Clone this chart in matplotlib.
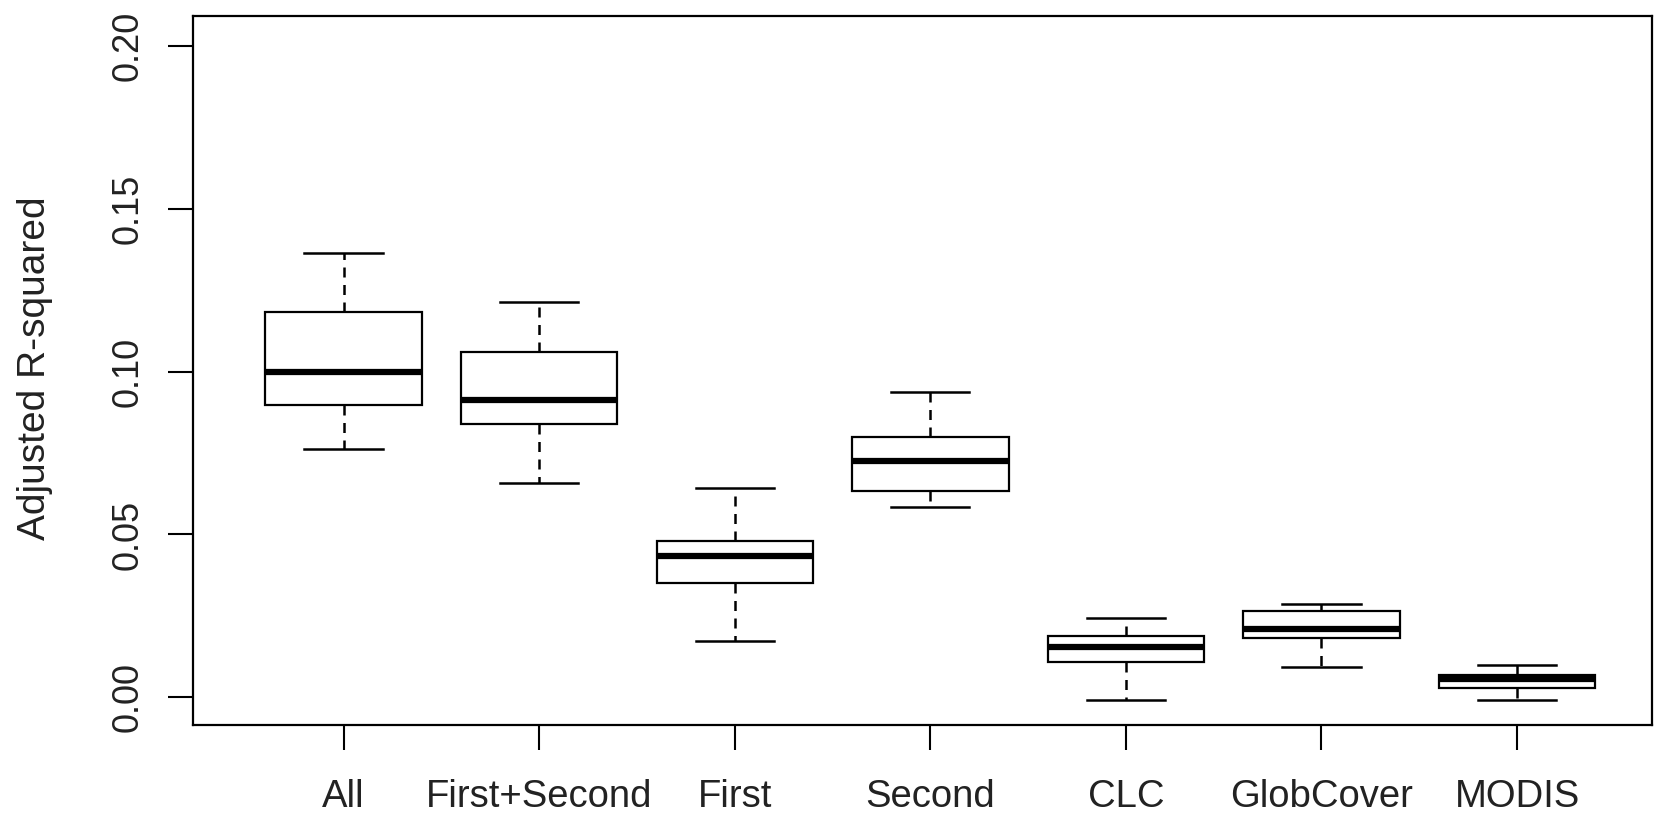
import numpy as np
import matplotlib.pyplot as plt
from matplotlib import font_manager

# la fuente del original se ve alta y estrecha
try:
    font_manager.findfont("Liberation Sans Narrow", fallback_to_default=False)
    familia = "Liberation Sans Narrow"
    escala = 1 / 0.82
except ValueError:
    familia = "Liberation Sans"
    escala = 1.0
plt.rcParams['font.family'] = [familia, 'DejaVu Sans']

# datos
categorias = ["All", "First+Second", "First", "Second", "CLC", "GlobCover", "MODIS"]
bigote_inf = [0.0763, 0.0658, 0.0173, 0.0583, -0.0007, 0.0092, -0.0007]
q1 = [0.0897, 0.0838, 0.0350, 0.0635, 0.0108, 0.0183, 0.0029]
mediana = [0.0998, 0.0913, 0.0435, 0.0727, 0.0154, 0.0209, 0.0056]
q3 = [0.1182, 0.1061, 0.0481, 0.0799, 0.0187, 0.0265, 0.0069]
bigote_sup = [0.1365, 0.1214, 0.0642, 0.0936, 0.0245, 0.0288, 0.0098]

estadisticas = []
for i in range(len(categorias)):
    estadisticas.append({"label": categorias[i], "whislo": bigote_inf[i], "q1": q1[i],
                         "med": mediana[i], "q3": q3[i], "whishi": bigote_sup[i],
                         "fliers": []})

fig = plt.figure(figsize=(16.71, 8.16), dpi=100)
ax = fig.add_axes([193 / 1671, 1 - 725 / 816, 1459 / 1671, 709 / 816])

ax.bxp(estadisticas, widths=0.8, showfliers=False, patch_artist=True,
       boxprops=dict(facecolor="white", edgecolor="black", linewidth=1.6),
       medianprops=dict(color="black", linewidth=4.5, solid_capstyle="butt"),
       whiskerprops=dict(color="black", linewidth=1.8, linestyle=(0, (4, 3))),
       capprops=dict(color="black", linewidth=1.8))

ax.set_xlim(0.23, 7.69)
ax.set_ylim(-0.0085, 0.2092)
ax.set_yticks([0.00, 0.05, 0.10, 0.15, 0.20])
ax.set_yticklabels(["0.00", "0.05", "0.10", "0.15", "0.20"], rotation=90, va="center")
ax.tick_params(axis="both", length=18, width=1.5, color="black", labelcolor="#222222")
ax.tick_params(axis="y", pad=16, labelsize=26 * escala)
ax.tick_params(axis="x", pad=21, labelsize=27.5 * escala)
for lado in ax.spines.values():
    lado.set_linewidth(1.6)

fig.text(35 / 1671, 1 - 368 / 816, "Adjusted R-squared", rotation=90,
         ha="center", va="center", fontsize=28 * escala, color="#222222")

fig.savefig("out.png", dpi=100)
